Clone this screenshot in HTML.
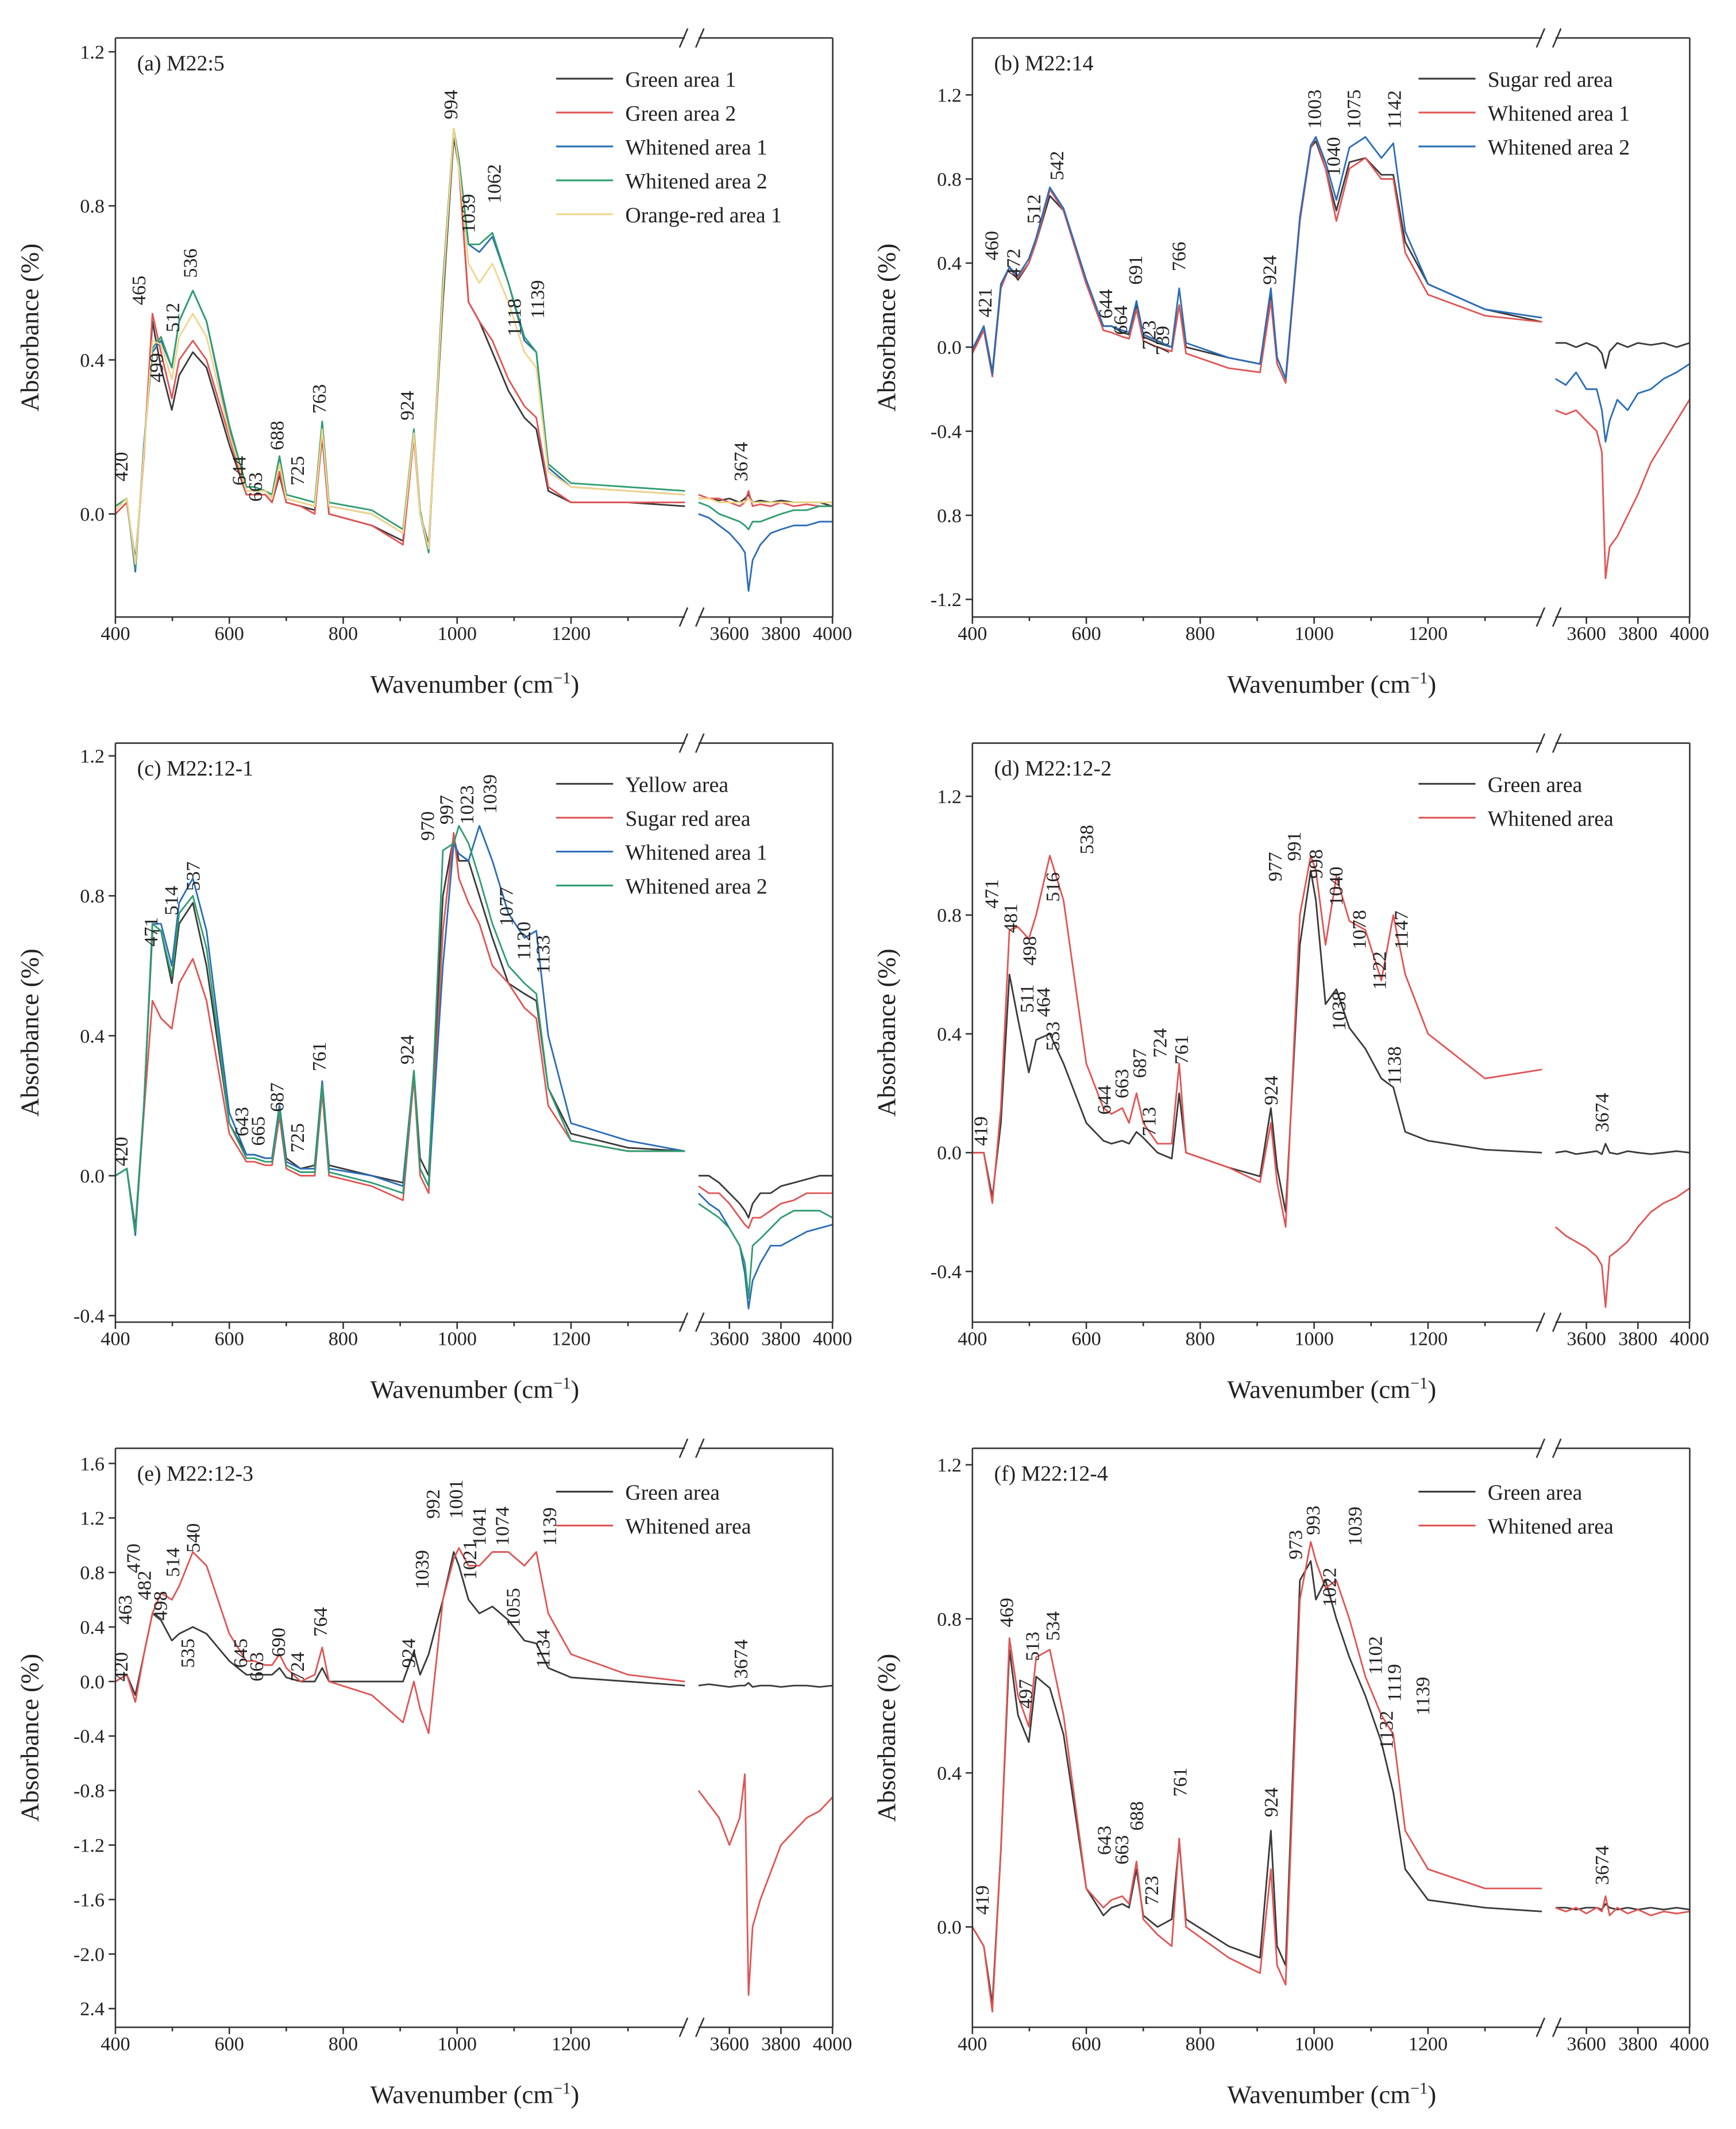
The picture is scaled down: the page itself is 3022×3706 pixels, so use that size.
<!DOCTYPE html>
<html><head><meta charset="utf-8"><style>
html,body{margin:0;padding:0;background:#fff}
svg{display:block}
text{font-family:"Liberation Serif",serif;fill:#222}
</style></head><body>
<svg id="fig" width="3022" height="3706" viewBox="0 0 1280 1570" xmlns="http://www.w3.org/2000/svg"></svg>
<script>
// shared wavenumber sampling
const wnL=[400,420,435,450,465,480,499,512,536,560,600,630,644,663,675,688,700,725,750,763,775,850,905,924,935,950,975,994,1003,1020,1039,1062,1090,1118,1139,1160,1200,1300,1400];
const wnR=[3480,3520,3560,3600,3640,3660,3674,3690,3720,3760,3800,3850,3900,3950,4000];
// (a)
const aBlackL=[0.0,0.03,-0.12,0.15,0.5,0.38,0.27,0.36,0.42,0.38,0.18,0.05,0.05,0.05,0.03,0.1,0.03,0.02,0.01,0.2,0.0,-0.03,-0.07,0.2,0.0,-0.08,0.55,0.98,0.9,0.55,0.5,0.42,0.32,0.25,0.22,0.06,0.03,0.03,0.02];
const aRedL=[0.0,0.03,-0.13,0.15,0.52,0.42,0.3,0.4,0.45,0.4,0.2,0.05,0.05,0.05,0.03,0.11,0.03,0.02,0.0,0.21,0.0,-0.03,-0.08,0.2,0.0,-0.09,0.6,1.0,0.9,0.55,0.5,0.45,0.35,0.28,0.25,0.07,0.03,0.03,0.03];
const aBlueL=[0.02,0.04,-0.15,0.18,0.42,0.45,0.38,0.5,0.58,0.5,0.22,0.06,0.06,0.06,0.04,0.15,0.04,0.03,0.02,0.24,0.02,0.0,-0.05,0.22,0.0,-0.1,0.6,1.0,0.92,0.7,0.68,0.72,0.6,0.45,0.42,0.12,0.07,0.06,0.05];
const aGreenL=[0.02,0.04,-0.14,0.17,0.43,0.46,0.38,0.5,0.58,0.5,0.23,0.07,0.07,0.06,0.05,0.15,0.05,0.04,0.03,0.24,0.03,0.01,-0.04,0.22,0.01,-0.1,0.6,1.0,0.92,0.7,0.7,0.73,0.6,0.46,0.42,0.13,0.08,0.07,0.06];
const aOrangeL=[0.01,0.04,-0.13,0.16,0.45,0.44,0.35,0.46,0.52,0.46,0.21,0.06,0.06,0.06,0.04,0.13,0.04,0.03,0.02,0.22,0.02,0.0,-0.05,0.21,0.0,-0.09,0.58,1.0,0.9,0.65,0.6,0.65,0.55,0.42,0.38,0.11,0.07,0.06,0.05];
const aBlackR=[0.04,0.04,0.035,0.04,0.03,0.04,0.05,0.03,0.035,0.03,0.035,0.03,0.03,0.03,0.02];
const aRedR=[0.05,0.04,0.04,0.03,0.02,0.03,0.06,0.02,0.025,0.02,0.03,0.02,0.025,0.02,0.02];
const aBlueR=[0.0,-0.01,-0.03,-0.05,-0.08,-0.1,-0.2,-0.12,-0.08,-0.05,-0.04,-0.03,-0.03,-0.02,-0.02];
const aGreenR=[0.03,0.02,0.0,-0.01,-0.02,-0.03,-0.04,-0.02,-0.02,-0.01,0.0,0.01,0.01,0.02,0.02];
const aOrangeR=[0.04,0.04,0.03,0.03,0.03,0.03,0.04,0.03,0.03,0.03,0.03,0.03,0.03,0.03,0.03];
// (b)
const bBlackL=[-0.02,0.1,-0.12,0.3,0.38,0.32,0.4,0.5,0.72,0.65,0.3,0.1,0.1,0.07,0.06,0.2,0.05,0.02,0.0,0.2,0.0,-0.05,-0.08,0.25,-0.05,-0.15,0.6,0.95,0.98,0.85,0.65,0.88,0.9,0.82,0.82,0.5,0.3,0.18,0.12];
const bRedL=[-0.03,0.08,-0.14,0.28,0.38,0.33,0.4,0.5,0.75,0.65,0.3,0.08,0.07,0.05,0.04,0.18,0.03,0.0,-0.02,0.2,-0.03,-0.1,-0.12,0.22,-0.08,-0.17,0.6,0.95,1.0,0.85,0.6,0.85,0.9,0.8,0.8,0.45,0.25,0.15,0.12];
const bBlueL=[-0.01,0.1,-0.13,0.3,0.38,0.34,0.42,0.52,0.76,0.66,0.32,0.1,0.1,0.08,0.07,0.22,0.06,0.03,0.0,0.28,0.02,-0.05,-0.08,0.28,-0.05,-0.15,0.62,0.96,1.0,0.88,0.7,0.95,1.0,0.9,0.97,0.55,0.3,0.18,0.14];
const bBlackR=[0.02,0.02,0.0,0.02,0.0,-0.03,-0.1,-0.02,0.02,0.0,0.02,0.01,0.02,0.0,0.02];
const bRedR=[-0.3,-0.32,-0.3,-0.35,-0.4,-0.5,-1.1,-0.95,-0.9,-0.8,-0.7,-0.55,-0.45,-0.35,-0.25];
const bBlueR=[-0.15,-0.18,-0.12,-0.2,-0.2,-0.3,-0.45,-0.35,-0.25,-0.3,-0.22,-0.2,-0.15,-0.12,-0.08];
// (c)
const cBlackL=[0.0,0.02,-0.15,0.2,0.7,0.7,0.55,0.72,0.78,0.6,0.15,0.06,0.06,0.05,0.05,0.2,0.05,0.02,0.03,0.27,0.03,0.0,-0.02,0.3,0.05,0.0,0.8,0.97,0.9,0.9,0.8,0.68,0.55,0.52,0.5,0.25,0.12,0.08,0.07];
const cRedL=[0.0,0.02,-0.16,0.18,0.5,0.45,0.42,0.55,0.62,0.5,0.12,0.04,0.04,0.03,0.03,0.17,0.02,0.0,0.0,0.24,0.0,-0.03,-0.07,0.28,0.0,-0.05,0.7,0.98,0.85,0.78,0.72,0.6,0.55,0.48,0.45,0.2,0.1,0.07,0.07];
const cBlueL=[0.0,0.02,-0.17,0.2,0.72,0.72,0.6,0.78,0.85,0.7,0.18,0.06,0.06,0.05,0.05,0.2,0.04,0.02,0.02,0.27,0.02,0.0,-0.03,0.3,0.02,-0.03,0.6,0.95,0.92,0.9,1.0,0.9,0.75,0.68,0.7,0.4,0.15,0.1,0.07];
const cGreenL=[0.0,0.02,-0.16,0.2,0.72,0.7,0.57,0.75,0.8,0.65,0.15,0.05,0.05,0.04,0.04,0.19,0.03,0.01,0.01,0.26,0.01,-0.02,-0.05,0.3,0.02,-0.03,0.93,0.95,1.0,0.95,0.85,0.72,0.6,0.55,0.52,0.25,0.1,0.07,0.07];
const cBlackR=[0.0,0.0,-0.02,-0.05,-0.08,-0.1,-0.12,-0.08,-0.05,-0.05,-0.03,-0.02,-0.01,0.0,0.0];
const cRedR=[-0.03,-0.05,-0.05,-0.08,-0.12,-0.14,-0.15,-0.12,-0.12,-0.1,-0.08,-0.07,-0.05,-0.05,-0.05];
const cBlueR=[-0.05,-0.08,-0.1,-0.15,-0.2,-0.28,-0.38,-0.3,-0.25,-0.2,-0.2,-0.18,-0.16,-0.15,-0.14];
const cGreenR=[-0.08,-0.1,-0.12,-0.15,-0.2,-0.25,-0.35,-0.2,-0.18,-0.15,-0.12,-0.1,-0.1,-0.1,-0.12];
// (d)
const dBlackL=[0.0,0.0,-0.15,0.1,0.6,0.45,0.27,0.38,0.4,0.3,0.1,0.04,0.03,0.04,0.03,0.07,0.05,0.0,-0.02,0.2,0.0,-0.05,-0.08,0.15,-0.05,-0.2,0.7,0.95,0.85,0.5,0.55,0.42,0.35,0.25,0.22,0.07,0.04,0.01,0.0];
const dRedL=[0.0,0.0,-0.17,0.15,0.75,0.76,0.72,0.8,1.0,0.85,0.3,0.15,0.13,0.15,0.1,0.2,0.1,0.03,0.03,0.3,0.0,-0.05,-0.1,0.1,-0.1,-0.25,0.8,1.0,0.95,0.7,0.93,0.78,0.75,0.58,0.8,0.6,0.4,0.25,0.28];
const dBlackR=[0.0,0.005,-0.005,0.0,0.005,-0.005,0.03,0.0,-0.005,0.005,0.0,-0.005,0.0,0.005,0.0];
const dRedR=[-0.25,-0.28,-0.3,-0.32,-0.35,-0.38,-0.52,-0.35,-0.33,-0.3,-0.25,-0.2,-0.17,-0.15,-0.12];
// (e)
const eBlackL=[0.0,0.05,-0.1,0.2,0.5,0.45,0.3,0.35,0.4,0.35,0.15,0.05,0.05,0.05,0.05,0.1,0.03,0.0,0.0,0.1,0.0,0.0,0.0,0.22,0.05,0.2,0.6,0.95,0.85,0.6,0.5,0.55,0.45,0.3,0.28,0.1,0.03,0.0,-0.03];
const eRedL=[0.0,0.05,-0.15,0.2,0.5,0.65,0.6,0.7,0.95,0.85,0.35,0.15,0.15,0.12,0.12,0.2,0.1,0.0,0.05,0.25,0.0,-0.1,-0.3,0.0,-0.2,-0.38,0.6,0.9,0.98,0.85,0.85,0.95,0.95,0.85,0.95,0.5,0.2,0.05,0.0];
const eBlackR=[-0.03,-0.02,-0.03,-0.04,-0.03,-0.03,-0.01,-0.04,-0.03,-0.03,-0.04,-0.03,-0.03,-0.04,-0.03];
const eRedR=[-0.8,-0.9,-1.0,-1.2,-1.0,-0.68,-2.3,-1.8,-1.6,-1.4,-1.2,-1.1,-1.0,-0.95,-0.85];
// (f)
const fBlackL=[0.0,-0.05,-0.2,0.2,0.72,0.55,0.48,0.65,0.62,0.5,0.1,0.03,0.05,0.06,0.05,0.15,0.03,0.0,0.02,0.22,0.02,-0.05,-0.08,0.25,-0.05,-0.1,0.9,0.95,0.85,0.9,0.8,0.7,0.6,0.48,0.35,0.15,0.07,0.05,0.04];
const fRedL=[0.0,-0.05,-0.22,0.2,0.75,0.6,0.52,0.7,0.72,0.55,0.1,0.05,0.07,0.08,0.06,0.17,0.02,-0.02,-0.05,0.23,0.0,-0.08,-0.12,0.15,-0.1,-0.15,0.85,1.0,0.95,0.88,0.9,0.8,0.65,0.55,0.5,0.25,0.15,0.1,0.1];
const fBlackR=[0.05,0.05,0.045,0.05,0.05,0.045,0.06,0.05,0.045,0.05,0.045,0.05,0.045,0.05,0.045];
const fRedR=[0.05,0.04,0.05,0.035,0.05,0.04,0.08,0.03,0.05,0.035,0.045,0.03,0.04,0.035,0.04];

const C={k:'#3a3a3a',r:'#e05555',b:'#2b6db6',g:'#2f9d70',o:'#f1d58a'};
const panels=[
 {id:'a',x0:85,top:28,bot:455,zero:379,ppu:284,ticks:[0,0.4,0.8,1.2],tl:['0.0','0.4','0.8','1.2'],title:'(a)  M22:5',
  series:[['Green area 1',C.k,aBlackL,aBlackR],['Green area 2',C.r,aRedL,aRedR],['Whitened area 1',C.b,aBlueL,aBlueR],['Whitened area 2',C.g,aGreenL,aGreenR],['Orange-red area 1',C.o,aOrangeL,aOrangeR]],
  leg:[410,58],
  ann:[['420',94,355],['465',107,225],['499',120,282],['512',132,245],['536',145,205],['644',181,358],['663',193,370],['688',209,332],['725',224,358],['763',240,305],['924',305,310],['994',337,88],['1039',350,172],['1062',369,150],['1118',384,248],['1139',401,235],['3674',551,355]]},
 {id:'b',x0:717,top:28,bot:455,zero:256,ppu:155,ticks:[1.2,0.8,0.4,0,-0.4,-0.8,-1.2],tl:['1.2','0.8','0.4','0.0','-0.4','0.8','-1.2'],title:'(b)  M22:14',
  series:[['Sugar red area',C.k,bBlackL,bBlackR],['Whitened area 1',C.r,bRedL,bRedR],['Whitened area 2',C.b,bBlueL,bBlueR]],
  leg:[1046,58],
  ann:[['421',731,234],['460',736,192],['472',752,205],['512',767,165],['542',784,133],['644',820,235],['664',831,247],['691',842,210],['723',852,258],['739',862,262],['766',874,200],['924',941,210],['1003',974,95],['1040',988,130],['1075',1003,95],['1142',1033,95]]},
 {id:'c',x0:85,top:548,bot:975,zero:867,ppu:258,ticks:[1.2,0.8,0.4,0,-0.4],tl:['1.2','0.8','0.4','0.0','-0.4'],title:'(c)  M22:12-1',
  series:[['Yellow area',C.k,cBlackL,cBlackR],['Sugar red area',C.r,cRedL,cRedR],['Whitened area 1',C.b,cBlueL,cBlueR],['Whitened area 2',C.g,cGreenL,cGreenR]],
  leg:[410,578],
  ann:[['420',94,860],['471',116,698],['514',131,675],['537',147,657],['643',183,838],['665',195,845],['687',209,820],['725',224,850],['761',240,790],['924',305,785],['970',320,620],['997',334,608],['1023',349,608],['1039',366,600],['1077',378,683],['1120',391,708],['1133',405,718]]},
 {id:'d',x0:717,top:548,bot:975,zero:850,ppu:219,ticks:[1.2,0.8,0.4,0,-0.4],tl:['1.2','0.8','0.4','0.0','-0.4'],title:'(d)  M22:12-2',
  series:[['Green area',C.k,dBlackL,dBlackR],['Whitened area',C.r,dRedL,dRedR]],
  leg:[1046,578],
  ann:[['419',728,845],['471',736,670],['481',750,688],['498',764,712],['516',781,665],['538',806,630],['511',762,747],['464',774,750],['533',781,775],['644',819,822],['663',832,810],['687',845,795],['713',852,838],['724',860,780],['761',876,785],['924',942,815],['977',945,650],['991',959,635],['998',975,648],['1040',990,668],['1078',1007,700],['1122',1022,730],['1147',1038,700],['1038',992,760],['1138',1033,800],['3674',1186,835]]},
 {id:'e',x0:85,top:1068,bot:1495,zero:1240,ppu:100.5,ticks:[1.6,1.2,0.8,0.4,0,-0.4,-0.8,-1.2,-1.6,-2.0,-2.4],tl:['1.6','1.2','0.8','0.4','0.0','-0.4','-0.8','-1.2','-1.6','-2.0','2.4'],title:'(e)  M22:12-3',
  series:[['Green area',C.k,eBlackL,eBlackR],['Whitened area',C.r,eRedL,eRedR]],
  leg:[410,1100],
  ann:[['420',94,1240],['463',97,1198],['470',103,1160],['482',111,1180],['498',123,1195],['514',132,1163],['540',147,1145],['535',143,1230],['645',182,1230],['663',194,1240],['690',210,1222],['724',224,1240],['764',241,1207],['924',306,1230],['1039',316,1172],['992',324,1120],['1001',341,1120],['1021',351,1165],['1041',358,1140],['1074',375,1140],['1055',383,1200],['1139',410,1140],['1134',405,1230],['3674',551,1238]]},
 {id:'f',x0:717,top:1068,bot:1495,zero:1421,ppu:284,ticks:[1.2,0.8,0.4,0],tl:['1.2','0.8','0.4','0.0'],title:'(f)  M22:12-4',
  series:[['Green area',C.k,fBlackL,fBlackR],['Whitened area',C.r,fRedL,fRedR]],
  leg:[1046,1100],
  ann:[['419',729,1412],['469',747,1200],['497',761,1260],['513',766,1225],['534',781,1210],['643',819,1368],['663',832,1375],['688',843,1350],['723',854,1405],['761',875,1325],['924',942,1340],['973',960,1150],['993',973,1132],['1022',985,1185],['1039',1004,1140],['1102',1019,1235],['1119',1033,1255],['1139',1054,1265],['1132',1027,1290],['3674',1186,1390]]}
];
const svg=document.getElementById('fig');
const NS='http://www.w3.org/2000/svg';
function mk(tag,attrs,parent,txt){const e=document.createElementNS(NS,tag);for(const k in attrs)e.setAttribute(k,attrs[k]);if(txt!==undefined)e.textContent=txt;parent.appendChild(e);return e;}
panels.forEach(p=>{
 const g=mk('g',{},svg);
 
 
 const xL=w=>p.x0+(w-400)*0.42;
 const xR=w=>p.x0+430+(w-3480)*0.19;
 const y=v=>p.zero-v*p.ppu;
 const right=p.x0+529, gapA=p.x0+420, gapB=p.x0+430;
 // clip
 const cid='clip'+p.id;
 const cp=mk('clipPath',{id:cid},g);mk('rect',{x:p.x0,y:p.top,width:529,height:p.bot-p.top},cp);
 // series
 const sg=mk('g',{'clip-path':'url(#'+cid+')'},g);
 p.series.forEach((s,i)=>{
  const pl=mk('polyline',{points:wnL.map((w,j)=>xL(w).toFixed(1)+','+y(s[2][j]).toFixed(1)).join(' '),fill:'none',stroke:s[1],'stroke-width':1.2,'stroke-linejoin':'round'},sg);
  
  
  const pr=mk('polyline',{points:wnR.map((w,j)=>xR(w).toFixed(1)+','+y(s[3][j]).toFixed(1)).join(' '),fill:'none',stroke:s[1],'stroke-width':1.2,'stroke-linejoin':'round'},sg);
  
  
 });
 // frame
 const st={stroke:'#333','stroke-width':1.1,fill:'none'};
 mk('line',Object.assign({x1:p.x0,y1:p.top,x2:p.x0,y2:p.bot},st),g);
 mk('line',Object.assign({x1:right,y1:p.top,x2:right,y2:p.bot},st),g);
 [p.top,p.bot].forEach(yy=>{
  mk('line',Object.assign({x1:p.x0,y1:yy,x2:gapA,y2:yy},st),g);
  mk('line',Object.assign({x1:gapB,y1:yy,x2:right,y2:yy},st),g);
  mk('line',Object.assign({x1:gapA-4,y1:yy+7,x2:gapA+2,y2:yy-7},st),g);
  mk('line',Object.assign({x1:gapB-2,y1:yy+7,x2:gapB+4,y2:yy-7},st),g);
 });
 // x ticks
 [400,600,800,1000,1200].forEach(w=>{mk('line',Object.assign({x1:xL(w),y1:p.bot,x2:xL(w),y2:p.bot+5},st),g);
  const t=mk('text',{x:xL(w),y:p.bot+17,'text-anchor':'middle','font-size':14.5},g,String(w));});
 [500,700,900,1100,1300].forEach(w=>mk('line',Object.assign({x1:xL(w),y1:p.bot,x2:xL(w),y2:p.bot+3},st),g));
 [3600,3800,4000].forEach(w=>{mk('line',Object.assign({x1:xR(w),y1:p.bot,x2:xR(w),y2:p.bot+5},st),g);
  const t=mk('text',{x:xR(w),y:p.bot+17,'text-anchor':'middle','font-size':14.5},g,String(w));});
 // y ticks
 p.ticks.forEach((v,i)=>{mk('line',Object.assign({x1:p.x0-5,y1:y(v),x2:p.x0,y2:y(v)},st),g);
  const t=mk('text',{x:p.x0-8,y:y(v)+5,'text-anchor':'end','font-size':14.5},g,p.tl[i]);});
 // titles
 const xt=mk('text',{x:p.x0+265,y:p.bot+56,'text-anchor':'middle','font-size':19},g);
 
 xt.innerHTML='Wavenumber (cm<tspan dy="-7" font-size="12">−1</tspan><tspan dy="7">)</tspan>';
 const yc=(p.top+p.bot)/2;
 const yt=mk('text',{x:p.x0-57,y:yc,'text-anchor':'middle','font-size':19,transform:'rotate(-90 '+(p.x0-57)+' '+yc+')'},g,'Absorbance (%)');
 
 const pt=mk('text',{x:p.x0+16,y:p.top+24,'font-size':16},g,p.title);
 
 // legend
 p.series.forEach((s,i)=>{const ly=p.leg[1]+i*25;
  mk('line',{x1:p.leg[0],y1:ly,x2:p.leg[0]+42,y2:ly,stroke:s[1],'stroke-width':1.3},g);
  const t=mk('text',{x:p.leg[0]+51,y:ly+6,'font-size':16},g,s[0]);});
 // annotations
 p.ann.forEach(a=>{const t=mk('text',{x:a[1],y:a[2],'font-size':14.5,transform:'rotate(-90 '+a[1]+' '+a[2]+')'},g,a[0]);
  });
});
</script>
</body></html>
